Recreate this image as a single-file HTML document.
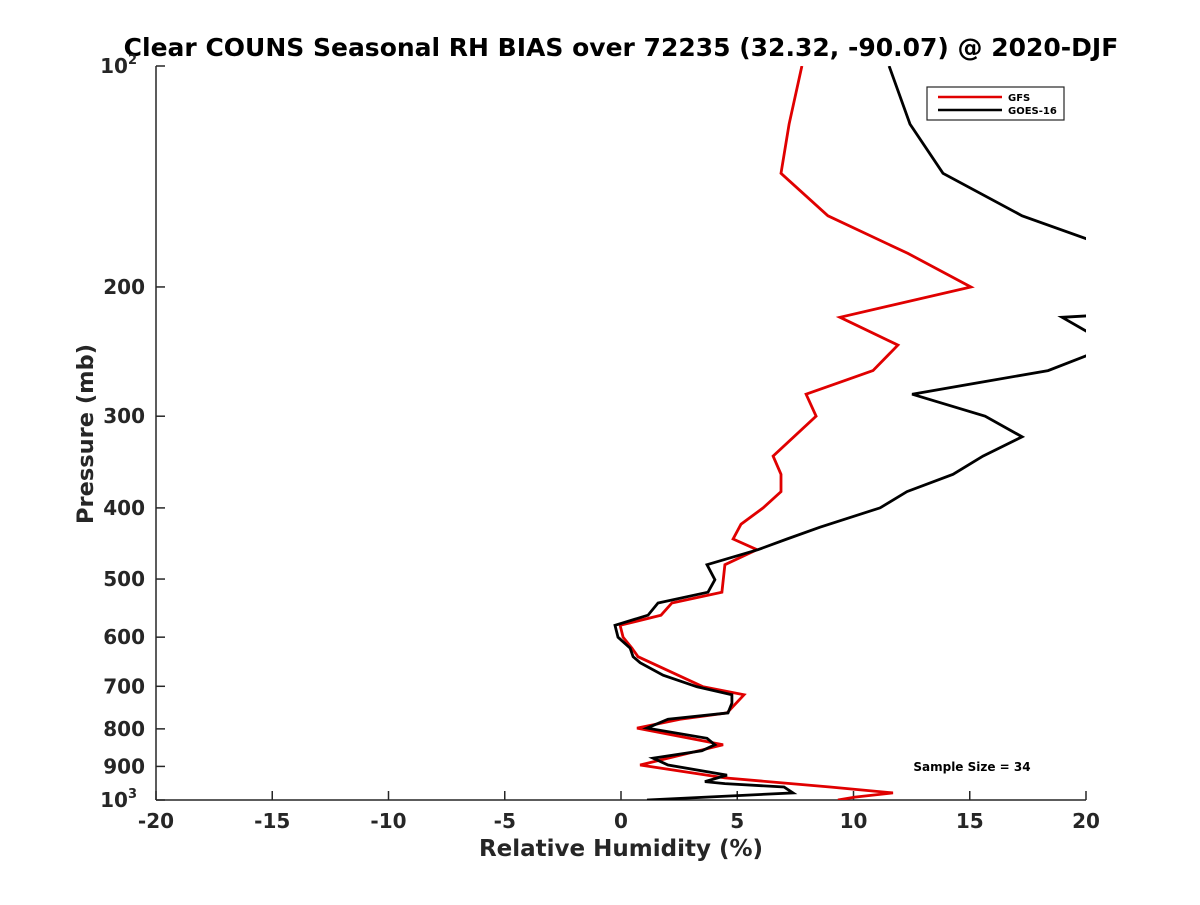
<!DOCTYPE html>
<html><head><meta charset="utf-8">
<style>
html,body{margin:0;padding:0;background:#fff;}
svg text{font-family:"DejaVu Sans","Liberation Sans",sans-serif;font-weight:bold;}
</style></head>
<body>
<svg id="chart" width="1200" height="900" viewBox="0 0 1200 900">
  <defs><clipPath id="plotclip"><rect x="156" y="66" width="930" height="734"/></clipPath></defs>
  <text x="621" y="56" text-anchor="middle" font-size="25" fill="#000">Clear COUNS Seasonal RH BIAS over 72235 (32.32, -90.07) @ 2020-DJF</text>
  <g id="axes"></g>
  <g id="series" clip-path="url(#plotclip)"></g>
  <text x="621" y="856" text-anchor="middle" font-size="23" fill="#262626">Relative Humidity (%)</text>
  <text transform="translate(93,434) rotate(-90)" text-anchor="middle" font-size="22.5" fill="#262626">Pressure (mb)</text>
  <g>
    <rect x="927" y="87" width="137" height="33" fill="#fff" stroke="#262626" stroke-width="1.2"/>
    <line x1="938" y1="97" x2="1002" y2="97" stroke="#e00000" stroke-width="2.5"/>
    <text x="1008" y="101" font-size="10" fill="#000">GFS</text>
    <line x1="938" y1="110" x2="1002" y2="110" stroke="#000" stroke-width="2.5"/>
    <text x="1008" y="114" font-size="10" fill="#000">GOES-16</text>
  </g>
  <text x="972" y="771" text-anchor="middle" font-size="12" fill="#000">Sample Size = 34</text>
</svg>
<script>
const xTicks = [-20,-15,-10,-5,0,5,10,15,20];
const yTicks = [100,200,300,400,500,600,700,800,900,1000];
const gfsP = [100,120,140,160,180,200,220,240,260,280,300,340,360,380,400,421,441,456,478,521,539,560,578,600,621,638,701,719,761,776,798,841,896,933,960,978,991,1000];
const gfsV = [7.78,7.23,6.88,8.90,12.34,15.05,9.42,11.91,10.84,7.96,8.39,6.54,6.88,6.88,6.11,5.16,4.82,5.85,4.47,4.34,2.19,1.72,-0.04,0.09,0.47,0.73,3.53,5.29,4.56,2.54,0.69,4.39,0.82,4.47,8.99,11.70,10.06,9.33];
const goesP = [100,120,140,160,172,185,205,219,220,230,240,248,260,280,300,320,340,360,380,400,425,441,456,478,501,521,539,560,578,600,621,638,650,676,701,719,738,761,776,798,824,841,857,877,896,925,944,950,960,978,1000];
const goesV = [11.53,12.43,13.85,17.25,20.04,23,24,20.04,18.97,20.04,22.75,20.04,18.37,12.52,15.66,17.25,15.57,14.28,12.30,11.14,8.56,7.14,5.89,3.70,4.04,3.74,1.59,1.16,-0.26,-0.13,0.39,0.52,0.82,1.81,3.27,4.77,4.77,4.60,2.02,1.12,3.70,4.04,3.48,1.38,2.02,4.56,3.61,4.47,7.01,7.40,1.12];

const X0=156, X1=1086, Y0=66, Y1=800;
function sx(v){return X0+(v+20)/40*(X1-X0);}
function sy(p){return Y0+Math.log10(p/100)*(Y1-Y0);}
const NS="http://www.w3.org/2000/svg";
const axes=document.getElementById('axes');
const series=document.getElementById('series');
function mk(tag,attrs,parent){const e=document.createElementNS(NS,tag);for(const k in attrs)e.setAttribute(k,attrs[k]);parent.appendChild(e);return e;}

let ax=mk('line',{x1:X0,y1:Y0,x2:X0,y2:Y1,stroke:'#262626','stroke-width':1.5},axes);


let bx=mk('line',{x1:X0,y1:Y1,x2:X1,y2:Y1,stroke:'#262626','stroke-width':1.5},axes);



xTicks.forEach(v=>{
  const x=sx(v);
  const t=mk('line',{x1:x,y1:Y1,x2:x,y2:Y1-9,stroke:'#262626','stroke-width':1.5},axes);
  
  
  const l=mk('text',{x:x,y:828,'text-anchor':'middle','font-size':20,fill:'#262626'},axes);
  l.textContent=String(v);
  
  
});
yTicks.forEach(p=>{
  const y=sy(p);
  const t=mk('line',{x1:X0,y1:y,x2:X0+9,y2:y,stroke:'#262626','stroke-width':1.5},axes);
  
  
  const l=mk('text',{x:145,y:y+7,'text-anchor':'end','font-size':20,fill:'#262626'},axes);
  if(p===100||p===1000){
    l.textContent='10';
    const s=mk('tspan',{dy:-9,'font-size':13},l);
    s.textContent=p===100?'2':'3';
    l.setAttribute('x',137);
  } else l.textContent=String(p);
  
  
});

function drawLine(P,V,color,name){
  const pts=P.map((p,i)=>sx(V[i]).toFixed(1)+','+sy(p).toFixed(1)).join(' ');
  const pl=mk('polyline',{points:pts,fill:'none',stroke:color,'stroke-width':2.8,'stroke-linejoin':'miter'},series);
  
  
}
drawLine(gfsP,gfsV,'#e00000','gfs-line');
drawLine(goesP,goesV,'#000000','goes16-line');
</script>
</body></html>
